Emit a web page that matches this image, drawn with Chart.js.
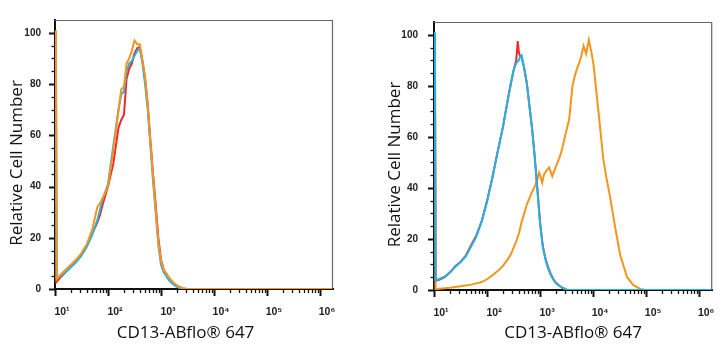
<!DOCTYPE html>
<html>
<head>
<meta charset="utf-8">
<script src="https://cdn.jsdelivr.net/npm/chart.js@4.4.0/dist/chart.umd.min.js"></script>
<style>
  html, body { margin: 0; padding: 0; background: #fff; }
  #wrap { position: relative; width: 725px; height: 350px; }
  #left { position: absolute; left: 0; top: 0; }
  #right { position: absolute; left: 362px; top: 0; }
</style>
</head>
<body>
<div id="wrap">
  <canvas id="left" width="362" height="350"></canvas>
  <canvas id="right" width="363" height="350"></canvas>
</div>
<script>
// axes
const xTickValues = [10, 100, 1000, 10000, 100000, 1000000];
const xTickLabels = ['10¹', '10²', '10³', '10⁴', '10⁵', '10⁶'];
const yTickValues = [0, 20, 40, 60, 80, 100];
const xTitle = 'CD13-ABflo® 647';
const yTitle = 'Relative Cell Number';

// panel 1 (all three overlap)
const leftX = [10.4, 10.7, 12.6, 15.8, 20, 25.1, 31.6, 39.8, 50.1, 63.1, 70.8, 79.4, 100, 126, 158, 178, 200, 224, 251, 282,
  316, 355, 398, 447, 501, 562, 631, 708, 794, 891, 1000, 1122, 1259, 1413, 1585, 1778, 1995, 2512, 3162, 10000, 2000000];
const leftRed = [100, 2.8, 4.5, 6.5, 9, 11, 13.5, 17, 21.5, 26, 29, 33, 40, 49, 63, 66, 68, 82, 86, 88,
  92, 94, 94.5, 89, 82, 72, 58, 45, 33, 20, 11.5, 7.5, 6, 4.3, 3, 2, 1.2, 0.2, 0, 0, 0];
const leftBlue = [100, 4, 5, 6.5, 8.5, 10.5, 13, 16.5, 21, 27, 31, 35, 41, 56, 70, 76, 77, 85, 88, 89,
  91, 93, 94, 88, 80, 70, 56, 42, 30, 17, 9.5, 6.5, 5, 3.5, 2.3, 1.5, 0.8, 0, 0, 0, 0];
const leftOrange = [101, 3.8, 5.5, 7.5, 9.5, 11.5, 14, 17.5, 23, 32, 33.5, 35.5, 40, 54, 70, 78, 79, 88, 90, 93,
  97, 95.5, 95.5, 89, 83, 72, 57, 44, 31, 18.5, 11, 7.5, 6, 4.5, 3.2, 2.2, 1.4, 0.3, 0, 0, 0];

// panel 2
const rightX = [10.4, 10.7, 12.6, 15.8, 20, 25.1, 31.6, 39.8, 50.1, 63.1, 79.4, 100, 126, 158, 200, 251, 282, 316, 355, 380,
  398, 422, 447, 501, 562, 631, 708, 794, 891, 1000, 1122, 1259, 1413, 1585, 1778, 1995, 2512, 3162, 10000, 2000000];
const rightRed = [100, 3.6, 4, 5, 6.8, 9.3, 11, 13.5, 17.5, 21.5, 27, 35, 44, 54, 64, 75.5, 81, 86, 90, 97.5,
  93, 91.5, 91.5, 87, 81, 72, 63, 52, 39.5, 26.5, 17.5, 12.5, 9, 6.3, 4.3, 2.8, 1.1, 0.1, 0, 0];
const rightBlue = [101, 3.8, 4.3, 5.2, 7, 9, 11, 13.2, 17, 21, 27, 34.5, 44, 54, 64, 75.5, 81, 86, 89, 89.5,
  90, 91.5, 92, 87, 81, 72, 63, 52, 39, 26, 17, 12, 8.5, 6, 4, 2.6, 1, 0.1, 0, 0];
const rightOrangeX = [10.4, 10.7, 12.6, 15.8, 20, 25.1, 31.6, 39.8, 50.1, 63.1, 79.4, 100, 126, 158, 200, 251, 282, 316, 355, 398,
  447, 501, 562, 631, 708, 794, 891, 955, 1000, 1096, 1175, 1288, 1479, 1698, 1995, 2291, 2512, 3020, 3548, 4074,
  4677, 5248, 5888, 6607, 7413, 8318, 9333, 10233, 11220, 12589, 14125, 15488, 17783, 20893, 26303, 32359, 43652, 57544, 77625, 100000, 2000000];
const rightOrange = [101, 0.3, 0.5, 0.7, 0.9, 1.2, 1.5, 1.8, 2.1, 2.6, 3.1, 4.2, 5.8, 7.4, 9.5, 12.3, 14, 16.5, 19, 22,
  26.5, 30, 33.5, 36, 38.5, 40.5, 43.5, 46, 45, 42, 45, 46.5, 48, 44.5, 48.5, 51.6, 54, 61, 67, 80,
  85, 88, 91, 95.6, 92.5, 98, 93, 88, 80, 70, 60, 51.6, 44, 36.5, 24, 13.8, 5, 1.9, 0.4, 0, 0];

const RED = '#ec2a2a';
const BLUE = '#1fb4e6';
const ORANGE = '#f7941d';

function pts(xs, ys) {
  return xs.map((x, i) => ({ x: x, y: ys[i] }));
}

// thin frame on top/right + major/minor tick marks on both axes
const frameTicks = {
  id: 'frameTicks',
  afterDraw(chart) {
    const ctx = chart.ctx;
    const a = chart.chartArea;
    const x = chart.scales.x;
    const y = chart.scales.y;
    ctx.save();
    ctx.strokeStyle = '#666';
    ctx.lineWidth = 1.2;
    ctx.beginPath();
    ctx.moveTo(a.left, a.top + 0.5);
    ctx.lineTo(a.right - 0.5, a.top + 0.5);
    ctx.lineTo(a.right - 0.5, a.bottom);
    ctx.stroke();

    ctx.strokeStyle = '#111';
    for (let v = 0; v <= 100; v += 5) {
      const major = v % 20 === 0;
      const py = Math.round(y.getPixelForValue(v)) + 0.5;
      ctx.lineWidth = major ? 2 : 1.3;
      ctx.beginPath();
      ctx.moveTo(a.left - (major ? 6 : 3.5), py);
      ctx.lineTo(a.left, py);
      ctx.stroke();
    }
    for (let d = 1; d <= 6; d++) {
      for (let k = 1; k <= 9; k++) {
        const v = k * Math.pow(10, d);
        if (v > x.max) break;
        const major = k === 1;
        const px = Math.round(x.getPixelForValue(v)) + 0.5;
        ctx.lineWidth = major ? 2 : 1.3;
        ctx.beginPath();
        ctx.moveTo(px, a.bottom);
        ctx.lineTo(px, a.bottom + (major ? 7 : 4));
        ctx.stroke();
      }
    }
    ctx.restore();
  }
};

function makeChart(id, datasets, o) {
  return new Chart(document.getElementById(id), {
    type: 'line',
    data: { datasets: datasets },
    options: {
      responsive: false,
      animation: false,
      devicePixelRatio: 1,
      layout: { padding: { top: o.top, right: o.right, left: 0, bottom: 0 } },
      plugins: { legend: { display: false }, tooltip: { enabled: false } },
      elements: {
        point: { radius: 0 },
        line: { borderWidth: 2, tension: 0 }
      },
      scales: {
        x: {
          type: 'logarithmic',
          min: 10,
          max: 1760000,
          afterBuildTicks: (s) => { s.ticks = xTickValues.map(v => ({ value: v })); },
          afterFit: (s) => { s.height = o.xHeight; },
          grid: { display: false, drawTicks: false },
          border: { display: true, color: '#111', width: 2 },
          ticks: {
            autoSkip: false,
            maxRotation: 0,
            padding: 17,
            labelOffset: 7,
            color: '#222',
            font: { family: 'Liberation Sans', size: 10.5, weight: 'bold' },
            callback: (v) => xTickLabels[xTickValues.indexOf(v)]
          },
          title: {
            display: true,
            text: o.xTitle,
            color: '#111',
            font: { family: 'Open Sans', size: 17 },
            padding: { top: 0, bottom: 7 }
          }
        },
        y: {
          min: 0,
          max: 105,
          afterBuildTicks: (s) => { s.ticks = yTickValues.map(v => ({ value: v })); },
          afterFit: (s) => { s.width = o.yWidth; },
          grid: { display: false, drawTicks: false },
          border: { display: true, color: '#111', width: 2 },
          ticks: {
            padding: o.yPad,
            color: '#222',
            font: { family: 'Liberation Sans', size: 10, weight: 'bold' }
          },
          title: {
            display: true,
            text: yTitle + '\u2003',
            color: '#111',
            font: { family: 'Open Sans', size: 17 },
            padding: { top: o.yTitlePad, bottom: 0 }
          }
        }
      }
    },
    plugins: [frameTicks]
  });
}

makeChart('left', [
  { data: pts(leftX, leftOrange), borderColor: ORANGE, order: 0 },
  { data: pts(leftX, leftBlue), borderColor: BLUE, order: 1 },
  { data: pts(leftX, leftRed), borderColor: RED, order: 2 }
], { top: 11, right: 29, xHeight: 61, yWidth: 55, yPad: 14, yTitlePad: 7, xTitle: xTitle + '\u2003' });

makeChart('right', [
  { data: pts(rightX, rightBlue), borderColor: BLUE, order: 0 },
  { data: pts(rightX, rightRed), borderColor: RED, order: 1 },
  { data: pts(rightOrangeX, rightOrange), borderColor: ORANGE, order: 2 }
], { top: 12, right: 12, xHeight: 60, yWidth: 72, yPad: 16, yTitlePad: 23, xTitle: xTitle });
</script>
</body>
</html>
